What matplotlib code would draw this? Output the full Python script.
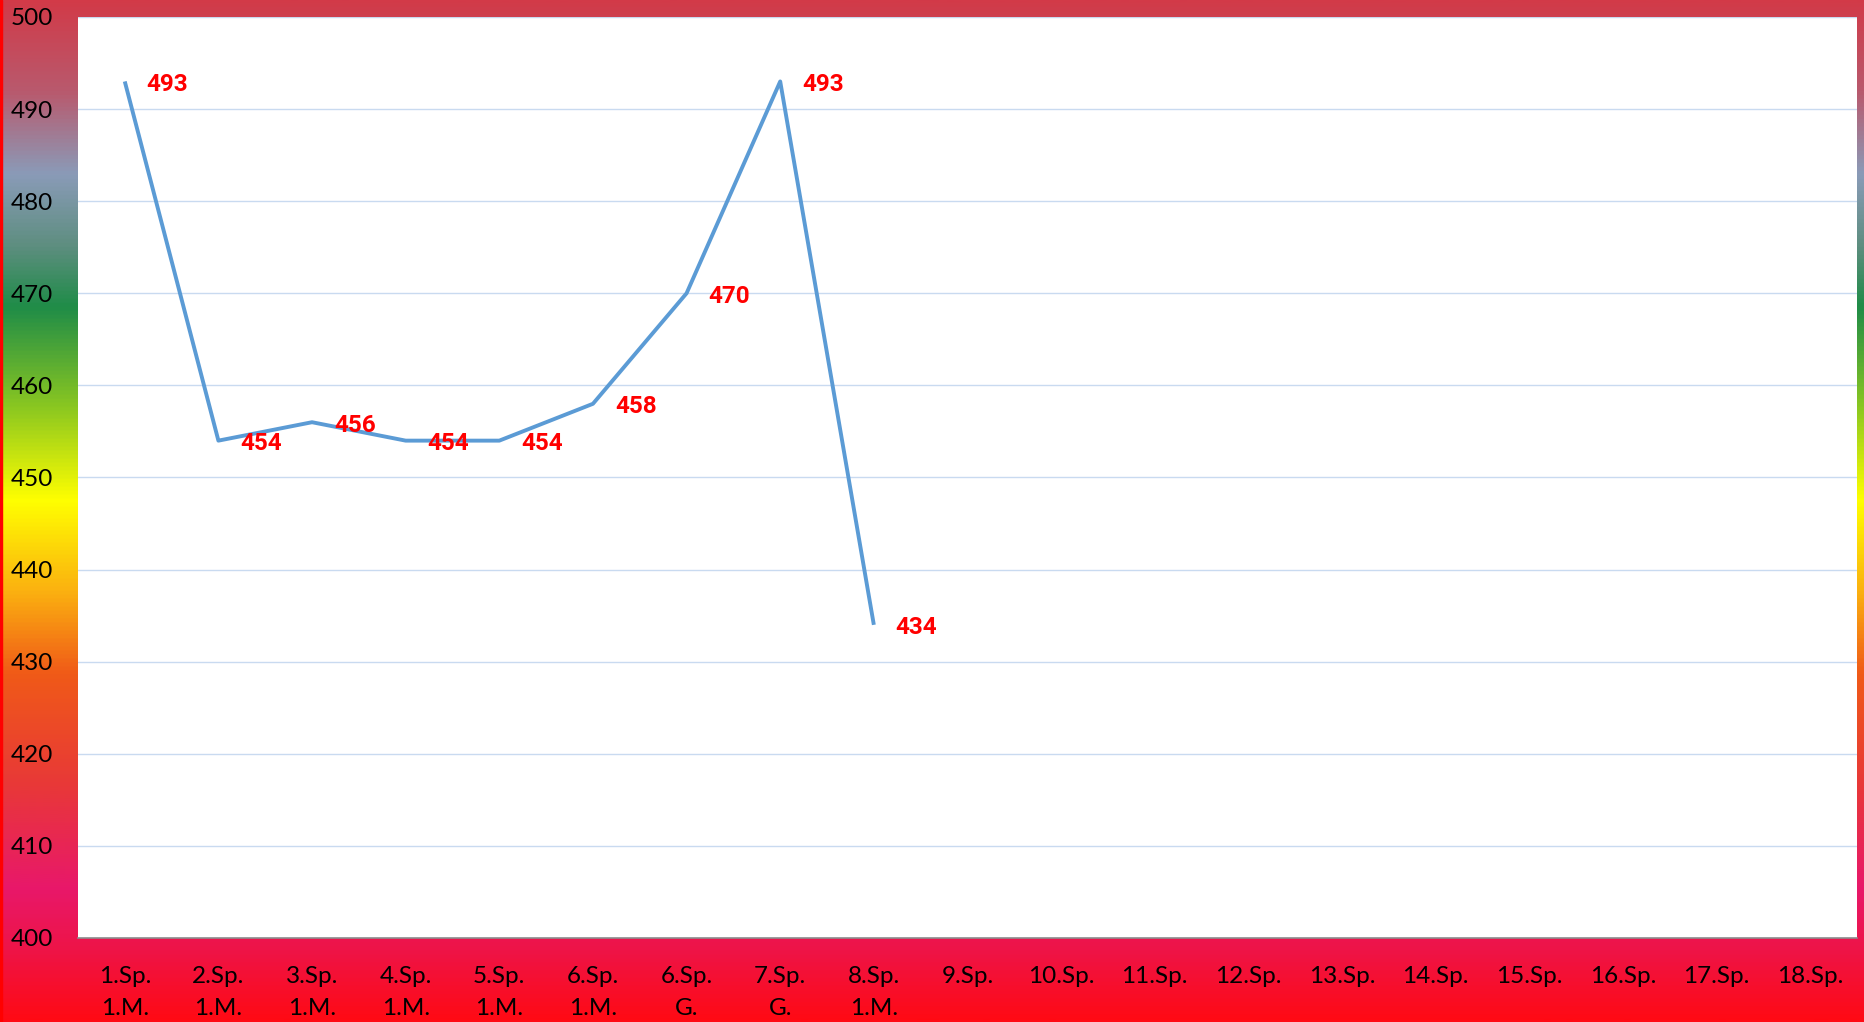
import numpy as np
from matplotlib import pyplot as plt
from matplotlib.colors import LinearSegmentedColormap

# chart data
categories = ['1.Sp.\n1.M.', '2.Sp.\n1.M.', '3.Sp.\n1.M.', '4.Sp.\n1.M.', '5.Sp.\n1.M.',
              '6.Sp.\n1.M.', '6.Sp.\nG.', '7.Sp.\nG.', '8.Sp.\n1.M.', '9.Sp.', '10.Sp.',
              '11.Sp.', '12.Sp.', '13.Sp.', '14.Sp.', '15.Sp.', '16.Sp.', '17.Sp.', '18.Sp.']
values = [493, 454, 456, 454, 454, 458, 470, 493, 434]
yticks = [400, 410, 420, 430, 440, 450, 460, 470, 480, 490, 500]

# background gradient stops (top -> bottom)
grad_stops = [(0.0, '#D23A48'), (0.09, '#B85A6E'), (0.17, '#8A9BB8'), (0.24, '#5E8E80'),
              (0.30, '#1F8C48'), (0.40, '#8CC820'), (0.49, '#FFFF00'), (0.58, '#FBB010'),
              (0.66, '#F05A18'), (0.77, '#E83838'), (0.87, '#E8186A'), (0.93, '#EE1448'),
              (1.0, '#FF0A14')]
bg_cmap = LinearSegmentedColormap.from_list('bg', grad_stops)

plt.rcParams['font.family'] = ['Lato', 'DejaVu Sans']

fig = plt.figure(figsize=(18.65, 10.22), dpi=100)

# gradient behind everything
bg = fig.add_axes([0, 0, 1, 1], zorder=-10)
bg.imshow(np.linspace(0, 1, 512).reshape(-1, 1), aspect='auto', cmap=bg_cmap,
          extent=[0, 1, 0, 1], origin='upper')
bg.axvspan(0, 2 / 1865, color='#FF0000')
bg.set_xlim(0, 1)
bg.set_ylim(0, 1)
bg.axis('off')

ax = fig.add_axes([0.0418, 0.0822, 0.9539, 0.9012])
ax.set_facecolor('white')
x = np.arange(len(categories))
xv = x[:len(values)]
ax.plot(xv, values, color='#5B9BD5', lw=2.8, solid_capstyle='butt', zorder=3)
for xi, v in zip(xv, values):
    ax.annotate(str(v), (xi, v), xytext=(22, -3), textcoords='offset pixels',
                ha='left', va='center', color='#FF0000', fontsize=17.5,
                fontweight='bold', family=['Roboto', 'DejaVu Sans'], zorder=4)

ax.set_xlim(-0.5, len(categories) - 0.5)
ax.set_ylim(400, 500)
ax.set_yticks(yticks)
ax.set_xticks(x)
ax.set_xticklabels(categories, linespacing=1.65)
ax.yaxis.grid(True, color='#C9DAF0', lw=1.0)
ax.set_axisbelow(True)
ax.tick_params(axis='both', length=0, labelsize=17.5, colors='black')
ax.tick_params(axis='y', pad=18)
ax.tick_params(axis='x', pad=20)
for s in ['top', 'left', 'right']:
    ax.spines[s].set_visible(False)
ax.spines['bottom'].set_color('#8C8C8C')
ax.spines['bottom'].set_linewidth(1.2)

fig.savefig('out.png', dpi=100)
